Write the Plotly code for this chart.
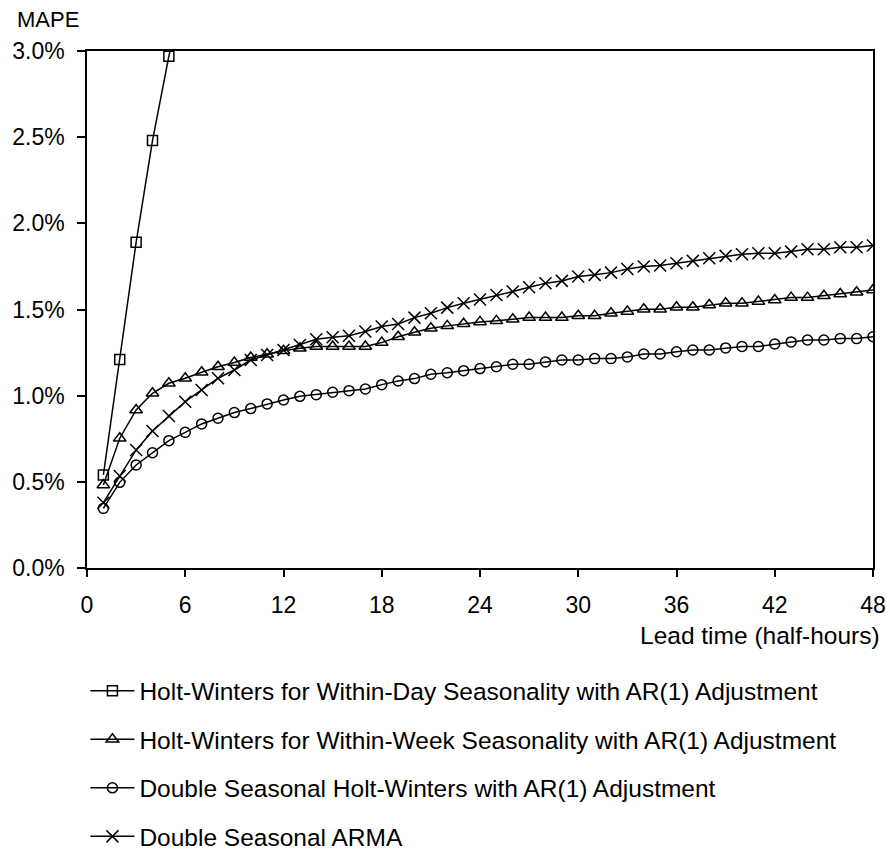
import plotly.graph_objects as go

lead = list(range(1, 49))
lead_day = [1, 2, 3, 4, 5, 6]

hw_day = [0.54, 1.21, 1.89, 2.48, 2.97, 3.40]

hw_week = [0.482, 0.753, 0.917, 1.014, 1.072, 1.101, 1.136, 1.168, 1.192, 1.221,
           1.240, 1.261, 1.275, 1.285, 1.285, 1.285, 1.285, 1.308, 1.342, 1.368,
           1.391, 1.405, 1.417, 1.428, 1.434, 1.443, 1.453, 1.453, 1.453, 1.464,
           1.464, 1.478, 1.488, 1.501, 1.501, 1.513, 1.513, 1.526, 1.536, 1.536,
           1.546, 1.555, 1.569, 1.569, 1.580, 1.590, 1.600, 1.613]

dshw = [0.346, 0.497, 0.598, 0.669, 0.739, 0.787, 0.836, 0.869, 0.902, 0.925,
        0.952, 0.975, 0.996, 1.006, 1.020, 1.029, 1.039, 1.064, 1.085, 1.099,
        1.124, 1.133, 1.145, 1.157, 1.168, 1.182, 1.182, 1.196, 1.207, 1.207,
        1.215, 1.215, 1.225, 1.242, 1.242, 1.255, 1.265, 1.265, 1.277, 1.285,
        1.285, 1.300, 1.312, 1.323, 1.323, 1.331, 1.331, 1.342]

arma = [0.379, 0.534, 0.685, 0.795, 0.882, 0.965, 1.033, 1.101, 1.149, 1.207,
        1.236, 1.265, 1.294, 1.327, 1.339, 1.348, 1.372, 1.401, 1.416, 1.453,
        1.478, 1.511, 1.536, 1.558, 1.584, 1.604, 1.629, 1.652, 1.666, 1.691,
        1.701, 1.714, 1.735, 1.749, 1.755, 1.768, 1.782, 1.797, 1.811, 1.821,
        1.826, 1.826, 1.836, 1.850, 1.850, 1.861, 1.861, 1.871]

names = ["Holt-Winters for Within-Day Seasonality with AR(1) Adjustment",
         "Holt-Winters for Within-Week Seasonality with AR(1) Adjustment",
         "Double Seasonal Holt-Winters with AR(1) Adjustment",
         "Double Seasonal ARMA"]

x_ticks = [0, 6, 12, 18, 24, 30, 36, 42, 48]
y_ticks = [0.0, 0.5, 1.0, 1.5, 2.0, 2.5, 3.0]
y_tick_text = [f"{v:.1f}%" for v in y_ticks]

FONT = "Liberation Sans, Arial, sans-serif"
FS = 23
FS_BIG = 24.5

series = [
    (lead_day, hw_day, "square-open", 10),
    (lead, hw_week, "triangle-up-open", 11),
    (lead, dshw, "circle-open", 10),
    (lead, arma, "x-thin-open", 12),
]

fig = go.Figure()
for i, ((xs, ys, sym, sz), nm) in enumerate(zip(series, names)):
    fig.add_trace(go.Scatter(
        x=xs, y=ys, name=nm, mode="lines+markers",
        line=dict(color="black", width=1.5),
        marker=dict(symbol=sym, size=sz, color="black",
                    line=dict(color="black", width=1.5)),
        legendgroup=f"g{i}",
        cliponaxis=True,
    ))

fig.update_layout(
    template="none",
    width=890, height=852,
    margin=dict(l=87, r=17, t=51, b=284, autoexpand=False),
    plot_bgcolor="white", paper_bgcolor="white",
    font=dict(family=FONT, size=FS, color="black"),
    showlegend=True,
    legend=dict(x=-0.002, y=-0.194, xanchor="left", yanchor="top",
                orientation="v", tracegroupgap=13.7, itemwidth=44,
                font=dict(family=FONT, size=FS_BIG, color="black"),
                bgcolor="rgba(0,0,0,0)"),
    xaxis=dict(range=[0, 48], tickvals=x_ticks, ticks="outside", ticklen=7,
               tickwidth=1.5, tickcolor="black", showline=True, linecolor="black",
               linewidth=1.5, mirror=True, showgrid=False, zeroline=False,
               ticklabelstandoff=9, tickfont=dict(family=FONT, size=FS)),
    yaxis=dict(range=[0, 3], tickvals=y_ticks, ticktext=y_tick_text,
               ticks="outside", ticklen=8, tickwidth=1.5, tickcolor="black",
               showline=True, linecolor="black", linewidth=1.5, mirror=True,
               showgrid=False, zeroline=False, ticklabelstandoff=8,
               tickfont=dict(family=FONT, size=FS)),
    annotations=[
        dict(text="MAPE", xref="paper", yref="paper", x=-0.092, y=1.06,
             xanchor="left", yanchor="middle", showarrow=False,
             font=dict(family=FONT, size=22, color="black")),
        dict(text="Lead time (half-hours)", xref="paper", yref="paper", x=1,
             y=-0.13, xanchor="right", yanchor="middle", xshift=9,
             showarrow=False, font=dict(family=FONT, size=FS_BIG, color="black")),
    ],
)

fig.write_html(
    "out.html",
    config={"displayModeBar": False},
    post_script="document.body.style.margin='0';document.body.style.overflow='hidden';",
)
